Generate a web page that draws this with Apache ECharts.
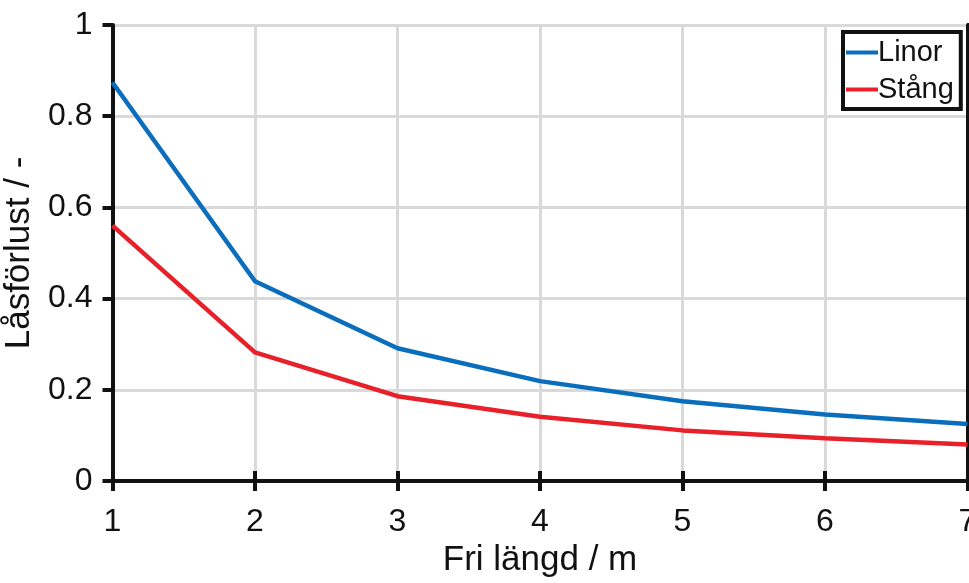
<!DOCTYPE html>
<html><head><meta charset="utf-8">
<script src="https://cdn.jsdelivr.net/npm/echarts@6/dist/echarts.min.js"></script>
<style>html,body{margin:0;padding:0;background:#fff}#c{width:969px;height:583px}</style>
</head><body><div id="c"></div>
<script>
const xValues = [1, 2, 3, 4, 5, 6, 7];
const linor = [0.874, 0.438, 0.291, 0.219, 0.175, 0.146, 0.125];
const stang = [0.560, 0.282, 0.186, 0.141, 0.111, 0.094, 0.080];
const seriesNames = ['Linor', 'Stång'];
const xTitle = 'Fri längd / m';
const yTitle = 'Låsförlust / -';

const font = 'Liberation Sans, Arial, sans-serif';
const chart = echarts.init(document.getElementById('c'), null, {renderer: 'canvas'});
const axisLine = {show: true, lineStyle: {color: '#111', width: 4}};
const tick = {show: true, inside: false, length: 10, lineStyle: {color: '#111', width: 4}};
chart.setOption({
  animation: false,
  backgroundColor: '#fff',
  grid: {left: 112.5, top: 25, right: 1.5, bottom: 102, outerBoundsMode: 'none', containLabel: false},
  legend: {
    left: 843, top: 32, orient: 'vertical',
    data: seriesNames.map(n => ({name: n, icon: 'rect'})),
    itemWidth: 32, itemHeight: 4, itemGap: 8,
    borderColor: '#111', borderWidth: 4, padding: [6, 7, 5, 3],
    backgroundColor: '#fff',
    textStyle: {fontFamily: font, fontSize: 29, color: '#111', padding: [0, 0, 0, -5]}
  },
  xAxis: [{
    type: 'value', min: 1, max: 7, interval: 1, position: 'bottom',
    name: xTitle, nameLocation: 'middle', nameGap: 61,
    nameTextStyle: {fontFamily: font, fontSize: 35, color: '#111'},
    axisLine: axisLine, axisTick: tick,
    axisLabel: {fontFamily: font, fontSize: 32, color: '#111', margin: 25},
    splitLine: {show: true, lineStyle: {color: '#d9d9d9', width: 3}}
  }, {
    type: 'value', min: 1, max: 7, interval: 1, position: 'top',
    axisLine: axisLine, axisTick: tick, axisLabel: {show: false}, splitLine: {show: false}
  }],
  yAxis: [{
    type: 'value', min: 0, max: 1, interval: 0.2, position: 'left',
    name: yTitle, nameLocation: 'middle', nameGap: 67,
    nameTextStyle: {fontFamily: font, fontSize: 35, color: '#111'},
    axisLine: axisLine, axisTick: tick,
    axisLabel: {fontFamily: font, fontSize: 32, color: '#111', margin: 20},
    splitLine: {show: true, lineStyle: {color: '#d9d9d9', width: 3}}
  }, {
    type: 'value', min: 0, max: 1, interval: 0.2, position: 'right',
    axisLine: axisLine, axisTick: tick, axisLabel: {show: false}, splitLine: {show: false}
  }],
  series: [
    {name: seriesNames[0], type: 'line', data: xValues.map((x, i) => [x, linor[i]]),
     symbol: 'none', lineStyle: {color: '#0a6ebd', width: 4.5}, itemStyle: {color: '#0a6ebd'}, z: 3},
    {name: seriesNames[1], type: 'line', data: xValues.map((x, i) => [x, stang[i]]),
     symbol: 'none', lineStyle: {color: '#e8202a', width: 4.5}, itemStyle: {color: '#e8202a'}, z: 3}
  ]
});
</script></body></html>
